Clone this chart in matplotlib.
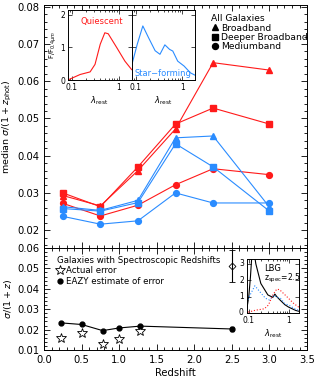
import numpy as np
import matplotlib
matplotlib.use("Agg")
import matplotlib.pyplot as plt
from matplotlib.lines import Line2D
from matplotlib.ticker import MultipleLocator, FormatStrFormatter, NullFormatter

plt.rcParams['font.family'] = ['DejaVu Sans']
plt.rcParams['mathtext.fontset'] = 'dejavusans'

# redshift bins (top panel)
z_bins = [0.25, 0.75, 1.25, 1.75, 2.25, 3.0]
# quiescent (red)
q_broad = [0.0293, 0.0265, 0.0360, 0.0472, 0.0650, 0.0630]
q_deep = [0.0300, 0.0263, 0.0370, 0.0485, 0.0528, 0.0485]
q_medium = [0.0272, 0.0238, 0.0267, 0.0322, 0.0365, 0.0349]
# star-forming (blue)
sf_broad = [0.0263, 0.0253, 0.0280, 0.0448, 0.0453, 0.0262]
sf_deep = [0.0258, 0.0251, 0.0274, 0.0432, 0.0370, 0.0251]
sf_medium = [0.0237, 0.0216, 0.0225, 0.0300, 0.0273, 0.0273]

# spectroscopic sample (bottom panel)
spec_z = [0.22, 0.50, 0.78, 1.00, 1.28]
actual_err = [0.0159, 0.0184, 0.0130, 0.0154, 0.0194]
eazy_z = [0.22, 0.50, 0.78, 1.00, 1.28, 2.50]
eazy_err = [0.0233, 0.0225, 0.0195, 0.0208, 0.0217, 0.0203]
eazy_unc = [0, 0, 0, 0, 0, 0.0008]
lbg_z = [2.5]
lbg_actual = [0.0512]
lbg_unc = [0.008]

# template shapes for insets
lam_q = [0.082, 0.15, 0.244, 0.31, 0.40, 0.50, 0.59, 0.89, 1.33, 1.85]
f_q = [0.0, 0.17, 0.25, 0.48, 1.10, 1.45, 1.42, 1.00, 0.58, 0.32]
lam_sf = [0.083, 0.108, 0.142, 0.188, 0.26, 0.33, 0.42, 0.53, 0.62, 0.79, 1.08, 1.48, 1.85]
f_sf = [0.48, 1.10, 1.66, 1.30, 0.90, 0.79, 1.08, 0.94, 0.89, 0.58, 0.43, 0.22, 0.15]
lam_lbg = [0.09, 0.10, 0.11, 0.12, 0.13, 0.15, 0.20, 0.30, 0.40, 0.45, 0.50, 0.60, 0.80, 1.0, 1.5, 1.8]
f_lbg = [0.3, 1.0, 2.2, 3.6, 4.0, 3.0, 1.8, 1.1, 0.95, 1.15, 1.0, 0.8, 0.5, 0.35, 0.15, 0.1]

red = '#ff1a1a'
blue = '#2a8cff'

fig = plt.figure(figsize=(3.15, 3.83), dpi=100)
ax1 = fig.add_axes([0.1397, 0.3525, 0.835, 0.6345])
ax2 = fig.add_axes([0.1397, 0.0862, 0.835, 0.2663])

def style(ax, fs=7.2):
    ax.tick_params(which='both', direction='in', top=True, right=True, labelsize=fs, width=0.6)
    ax.tick_params(which='major', length=4.5)
    ax.tick_params(which='minor', length=2.2)
    for s in ax.spines.values():
        s.set_linewidth(0.7)

# top panel
ms = 4.2
ax1.plot(z_bins, q_broad, '-^', color=red, lw=0.8, ms=ms)
ax1.plot(z_bins, q_deep, '-s', color=red, lw=0.8, ms=ms)
ax1.plot(z_bins, q_medium, '-o', color=red, lw=0.8, ms=ms)
ax1.plot(z_bins, sf_broad, '-^', color=blue, lw=0.8, ms=ms)
ax1.plot(z_bins, sf_deep, '-s', color=blue, lw=0.8, ms=ms)
ax1.plot(z_bins, sf_medium, '-o', color=blue, lw=0.8, ms=ms)
ax1.set_xlim(0, 3.5)
ax1.set_ylim(0.0152, 0.0805)
ax1.xaxis.set_major_locator(MultipleLocator(0.5))
ax1.xaxis.set_minor_locator(MultipleLocator(0.1))
ax1.yaxis.set_major_locator(MultipleLocator(0.01))
ax1.yaxis.set_minor_locator(MultipleLocator(0.002))
ax1.yaxis.set_major_formatter(FormatStrFormatter('%.2f'))
ax1.xaxis.set_major_formatter(NullFormatter())
ax1.set_ylabel(r'median $\sigma/(1+z_{\rm phot})$', fontsize=6.8, labelpad=2)
style(ax1)

handles = [Line2D([], [], marker='^', color='k', ls='none', ms=4.3),
           Line2D([], [], marker='s', color='k', ls='none', ms=4.0),
           Line2D([], [], marker='o', color='k', ls='none', ms=4.3)]
leg = ax1.legend(handles, ['Broadband', 'Deeper Broadband', 'Mediumband'], title='All Galaxies',
                 loc='upper left', bbox_to_anchor=(0.615, 0.985), frameon=False, fontsize=6.6,
                 title_fontsize=6.6, handlelength=0.8, handletextpad=0.3, labelspacing=0.05,
                 borderpad=0.1, alignment='left')

# bottom panel
ax2.plot(eazy_z, eazy_err, '-', color='k', lw=0.8)
ax2.errorbar(eazy_z, eazy_err, yerr=eazy_unc, fmt='o', color='k', ms=3.5, capsize=1.5, elinewidth=0.7)
ax2.plot(spec_z, actual_err, '*', mfc='none', mec='k', ms=7, mew=0.6, ls='none')
ax2.errorbar(lbg_z, lbg_actual, yerr=lbg_unc, fmt='D', mfc='none', mec='k', color='k', ms=3.5,
             mew=0.6, capsize=2, elinewidth=0.8)
ax2.set_xlim(0, 3.5)
ax2.set_ylim(0.01, 0.06)
ax2.xaxis.set_major_locator(MultipleLocator(0.5))
ax2.xaxis.set_minor_locator(MultipleLocator(0.1))
ax2.yaxis.set_major_locator(MultipleLocator(0.01))
ax2.yaxis.set_minor_locator(MultipleLocator(0.002))
ax2.yaxis.set_major_formatter(FormatStrFormatter('%.2f'))
ax2.xaxis.set_major_formatter(FormatStrFormatter('%.1f'))
ax2.set_xlabel('Redshift', fontsize=7.2, labelpad=2)
ax2.set_ylabel(r'$\sigma/(1+z)$', fontsize=6.8, labelpad=2)
style(ax2)

h2 = [Line2D([], [], marker='*', mfc='none', mec='k', ls='none', ms=7, mew=0.6),
      Line2D([], [], marker='o', color='k', ls='none', ms=3.5)]
ax2.legend(h2, ['Actual error', 'EAZY estimate of error'], title='Galaxies with Spectroscopic Redshifts',
           loc='upper left', bbox_to_anchor=(0.025, 0.98), frameon=False, fontsize=6.2,
           title_fontsize=6.2, handlelength=0.8, handletextpad=0.3, labelspacing=0.15,
           borderpad=0.2, alignment='left')

# top insets
def inset_style(ax):
    ax.set_xscale('log')
    ax.tick_params(which='both', direction='in', top=True, right=True, labelsize=5.5, width=0.5, pad=2)
    ax.tick_params(which='major', length=3)
    ax.tick_params(which='minor', length=1.5)
    ax.xaxis.set_major_formatter(FormatStrFormatter('%g'))
    ax.xaxis.set_minor_formatter(NullFormatter())
    for s in ax.spines.values():
        s.set_linewidth(0.7)

inq = fig.add_axes([0.215, 0.791, 0.203, 0.183])
inq.plot(lam_q, f_q, color=red, lw=0.8)
inq.set_xlim(0.082, 1.85)
inq.set_ylim(0, 2.15)
inset_style(inq)
inq.yaxis.set_major_locator(MultipleLocator(1))
inq.set_ylabel(r'F/F$_{0.4\mu m}$', fontsize=5, labelpad=0.5)
inq.set_xlabel(r'$\lambda_{\rm rest}$', fontsize=6, labelpad=2)
inq.text(0.2, 0.8, 'Quiescent', color=red, fontsize=6, transform=inq.transAxes)

insf = fig.add_axes([0.418, 0.791, 0.201, 0.183])
insf.plot(lam_sf, f_sf, color=blue, lw=0.8)
insf.set_xlim(0.082, 1.85)
insf.set_ylim(0, 2.15)
inset_style(insf)
insf.yaxis.set_major_locator(MultipleLocator(1))
insf.set_yticklabels([])
insf.set_xlabel(r'$\lambda_{\rm rest}$', fontsize=6, labelpad=2)
insf.text(0.04, 0.06, 'Star\u2212forming', color=blue, fontsize=6, transform=insf.transAxes)

# bottom inset
inl = fig.add_axes([0.784, 0.183, 0.165, 0.141])
inl.plot(lam_lbg, f_lbg, color='k', lw=0.8)
inl.plot(lam_sf, f_sf, color=blue, lw=0.8, ls=':')
inl.plot(lam_q, f_q, color=red, lw=0.8, ls=':')
inl.set_xlim(0.09, 1.8)
inl.set_ylim(0, 3.3)
inset_style(inl)
inl.yaxis.set_major_locator(MultipleLocator(1))
inl.tick_params(axis='y', labelleft=False, labelright=False)
inl.set_xlabel(r'$\lambda_{\rm rest}$', fontsize=6, labelpad=2)
inl.text(0.33, 0.78, 'LBG', fontsize=6, transform=inl.transAxes)
inl.text(0.33, 0.6, r'z$_{\rm spec}$=2.5', fontsize=5.5, transform=inl.transAxes)
for v in [0, 1, 2, 3]:
    inl.text(-0.06, v, str(v), fontsize=5.5, ha='right', va='center',
             transform=inl.get_yaxis_transform())

fig.savefig('out.png', dpi=100)
